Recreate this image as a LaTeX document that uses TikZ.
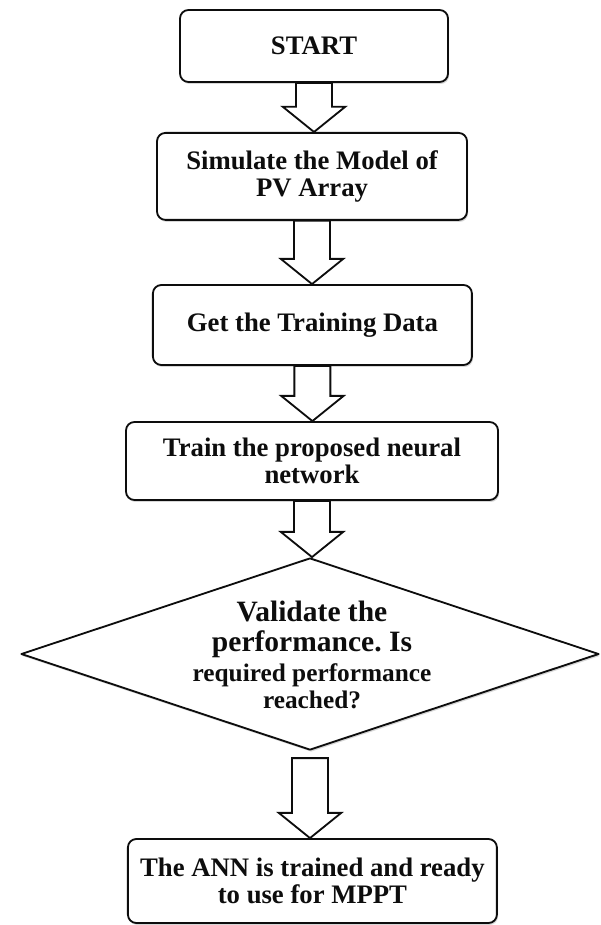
\documentclass[tikz,border=0pt]{standalone}
\usepackage{fontspec}
\setmainfont{Liberation Serif}
\usetikzlibrary{calc,shapes.geometric,shadows}
\definecolor{FlowInk}{gray}{0.05}
\definecolor{FlowShade}{gray}{0.55}
\tikzset{
    flow/diagram/.style={
        font=\fontsize{19}{19.4}\selectfont\bfseries,
        draw=FlowInk,
        text=FlowInk,
        line width=1.3pt,
        line join=round
    },
    flow/shade/.style={
        drop shadow={opacity=0.35, fill=FlowShade,
            shadow xshift=0.8pt, shadow yshift=-1.4pt}
    },
    flow/box/.style={
        rectangle, draw=FlowInk, fill=white, rounded corners=6pt,
        align=center, inner sep=3pt, flow/shade
    },
    flow/decision/.style={
        diamond, draw=FlowInk, fill=white, inner sep=0pt, flow/shade
    },
    flow/hollow/.style={
        draw=FlowInk, fill=white, line width=1.3pt, line join=miter,
        to path={let \p1=(\tikztostart), \p2=(\tikztotarget) in
            (\x1-0.45cm,\y1) -- (\x1-0.45cm,\y2+0.63cm)
            -- (\x1-0.78cm,\y2+0.63cm) -- (\x1,\y2)
            -- (\x1+0.78cm,\y2+0.63cm) -- (\x1+0.45cm,\y2+0.63cm)
            -- (\x1+0.45cm,\y1) -- cycle}
    }
}

\begin{document}
\begin{tikzpicture}[flow/diagram]
    \useasboundingbox (0,0) rectangle (15,-23.125);
    \node[flow/box, minimum width=6.7cm, minimum height=1.8cm]
        (start) at (7.85,-1.15) {START};
    \node[flow/box, minimum width=7.75cm, minimum height=2.175cm]
        (simulate) at (7.8,-4.41) {Simulate the Model of\\PV Array};
    \node[flow/box, minimum width=7.975cm, minimum height=2.0cm]
        (data) at (7.81,-8.125) {Get the Training Data};
    \node[flow/box, minimum width=9.3cm, minimum height=1.95cm]
        (train) at (7.8,-11.525) {Train the proposed neural\\network};
    \node[flow/decision, minimum width=14.45cm, minimum height=4.8cm]
        (check) at (7.75,-16.35) {};
    \node[align=center, inner sep=0pt] (question) at (7.8,-16.38)
        {\fontsize{21}{19.2}\selectfont Validate the\\[1.4pt]
         \fontsize{21}{19.2}\selectfont performance.\ Is\\[2pt]
         \fontsize{18}{19.2}\selectfont required performance\\
         \fontsize{18}{19.2}\selectfont reached?};
    \node[flow/box, minimum width=9.225cm, minimum height=2.1cm]
        (done) at (7.81,-22.025) {The ANN is trained and ready\\to use for MPPT};
    \coordinate (below) at ([yshift=-0.18cm]check.south);

    \draw[flow/hollow] (start.south) to (simulate.north);
    \draw[flow/hollow] (simulate.south) to (data.north);
    \draw[flow/hollow] (data.south) to (train.north);
    \draw[flow/hollow] (train.south) to (check.north);
    \draw[flow/hollow] (below) to (done.north);
\end{tikzpicture}
\end{document}
